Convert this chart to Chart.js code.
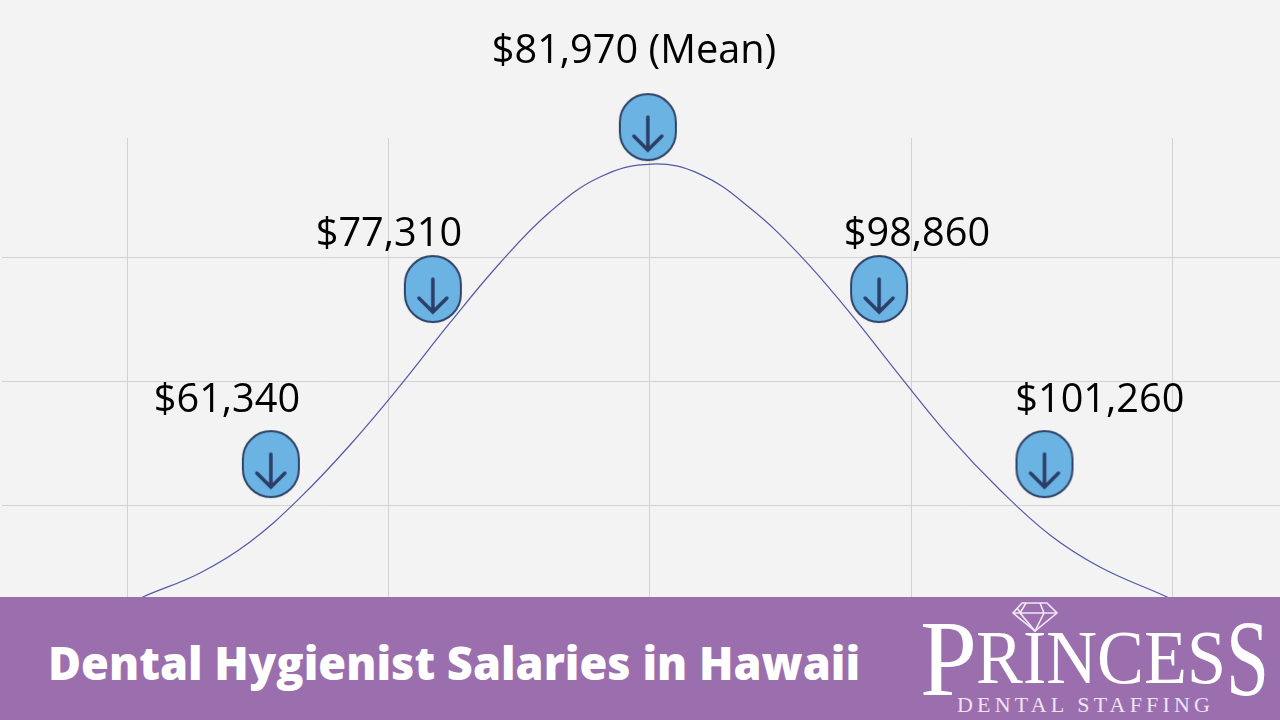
<!DOCTYPE html>
<html>
<head>
<meta charset="utf-8">
<title>Dental Hygienist Salaries in Hawaii</title>
<script src="https://cdn.jsdelivr.net/npm/chart.js@4"></script>
<style>
  html, body { margin: 0; padding: 0; background: #f3f3f3; }
  #wrap { position: relative; width: 1280px; height: 720px; overflow: hidden; }
  #band { position: absolute; left: 0; top: 597px; width: 1280px; height: 123px; background: #9b6fae; }
  #title { position: absolute; left: 48px; top: 36px; font: 800 45.1px "Open Sans", sans-serif; color: #fff; white-space: nowrap; line-height: 60px; }
  #logo { position: absolute; left: 0; top: 0; }
</style>
</head>
<body>
<div id="wrap">
  <canvas id="myChart" width="1280" height="720"></canvas>
  <div id="band">
    <div id="title">Dental Hygienist Salaries in Hawaii</div>
    <svg id="logo" width="1280" height="123" viewBox="0 597 1280 123">
      <g fill="none" stroke="#f4e8f8" stroke-width="1.6">
        <path d="M1022 603 L1047 603 L1057 613 L1035 631 L1013 613 Z"/>
        <path d="M1013 613 L1057 613 M1026 603 L1020 613 L1035 631 L1044 613 L1040 603 M1017 608 L1024 618"/>
      </g>
      <g font-family="'Liberation Serif', serif" fill="#ffffff">
        <text x="920" y="695" font-size="108" textLength="57" lengthAdjust="spacingAndGlyphs">P</text>
        <text x="976" y="683" font-size="76" textLength="250" lengthAdjust="spacingAndGlyphs">RINCES</text>
        <text x="1226" y="695" font-size="108" textLength="43" lengthAdjust="spacingAndGlyphs">S</text>
      </g>
      <text x="957" y="712" font-family="'Liberation Serif', serif" font-size="22" fill="#f0e2f5" textLength="253">DENTAL STAFFING</text>
    </svg>
  </div>
</div>
<script>
// curva (x en desviaciones, y en unidades de la rejilla)
const curveX = [-2.002, -1.941, -1.722, -1.531, -1.34, -1.148, -0.957, -0.766, -0.574, -0.383, -0.191, 0.008, 0.191, 0.383, 0.574, 0.766, 0.957, 1.148, 1.34, 1.531, 1.722, 1.971, 2.029];
const curveY = [0.19, 0.258, 0.452, 0.702, 1.057, 1.484, 1.96, 2.468, 2.952, 3.363, 3.645, 3.75, 3.669, 3.395, 3.016, 2.548, 2.04, 1.548, 1.121, 0.758, 0.5, 0.266, 0.21];

const salaryLabels = ['$61,340', '$77,310', '$81,970 (Mean)', '$98,860', '$101,260'];
const pinX = [-1.451, -0.831, -0.008, 0.877, 1.51];
const pinY = [1.33, 2.742, 4.048, 2.742, 1.33];
const labelX = [-1.619, -0.999, -0.061, 1.022, 1.722];
const labelY = [1.75, 3.089, 4.565, 3.089, 1.75];

const xTicks = [-2, -1, 0, 1, 2];
const yTicks = [1, 2, 3];

// dibuja el marcador azul con la flecha
function makePin() {
  let c = document.createElement('canvas');
  c.width = 60;
  c.height = 70;
  let g = c.getContext('2d');
  g.beginPath();
  g.roundRect(2, 2, 56, 66, 28);
  g.fillStyle = '#6ab3e3';
  g.fill();
  g.lineWidth = 2;
  g.strokeStyle = '#2f4368';
  g.stroke();
  g.lineWidth = 3.5;
  g.lineCap = 'round';
  g.strokeStyle = '#2c3e68';
  g.beginPath();
  g.moveTo(30, 25);
  g.lineTo(30, 58);
  g.moveTo(16, 44);
  g.lineTo(30, 58);
  g.lineTo(44, 44);
  g.stroke();
  return c;
}

const salaryText = {
  id: 'salaryText',
  afterDatasetsDraw(chart) {
    let ctx = chart.ctx;
    ctx.save();
    ctx.font = '39.7px "Open Sans", sans-serif';
    ctx.fillStyle = '#000';
    ctx.textAlign = 'center';
    ctx.textBaseline = 'alphabetic';
    salaryLabels.forEach((t, i) => {
      ctx.fillText(t, chart.scales.x.getPixelForValue(labelX[i]), chart.scales.y.getPixelForValue(labelY[i]));
    });
    ctx.restore();
  }
};

const ctx = document.getElementById('myChart').getContext('2d');
new Chart(ctx, {
  type: 'scatter',
  data: {
    datasets: [{
      data: pinX.map((x, i) => ({ x: x, y: pinY[i] })),
      pointStyle: makePin(),
      pointRadius: 30,
      clip: false,
      order: 1
    }, {
      data: curveX.map((x, i) => ({ x: x, y: curveY[i] })),
      showLine: true,
      borderColor: '#5558a8',
      borderWidth: 1.2,
      pointRadius: 0,
      tension: 0.4,
      order: 2
    }]
  },
  options: {
    responsive: false,
    animation: false,
    layout: { autoPadding: false, padding: { left: 2, right: 0, top: 138, bottom: 123 } },
    plugins: { legend: { display: false }, tooltip: { enabled: false } },
    scales: {
      x: {
        type: 'linear',
        min: -2.48,
        max: 2.4115,
        afterBuildTicks: axis => { axis.ticks = xTicks.map(v => ({ value: v })); },
        grid: { color: '#d2d2d2', drawTicks: false },
        border: { display: false },
        ticks: { display: false }
      },
      y: {
        min: 0.258,
        max: 3.96,
        afterBuildTicks: axis => { axis.ticks = yTicks.map(v => ({ value: v })); },
        grid: { color: '#d2d2d2', drawTicks: false },
        border: { display: false },
        ticks: { display: false }
      }
    }
  },
  plugins: [salaryText]
});
</script>
</body>
</html>
